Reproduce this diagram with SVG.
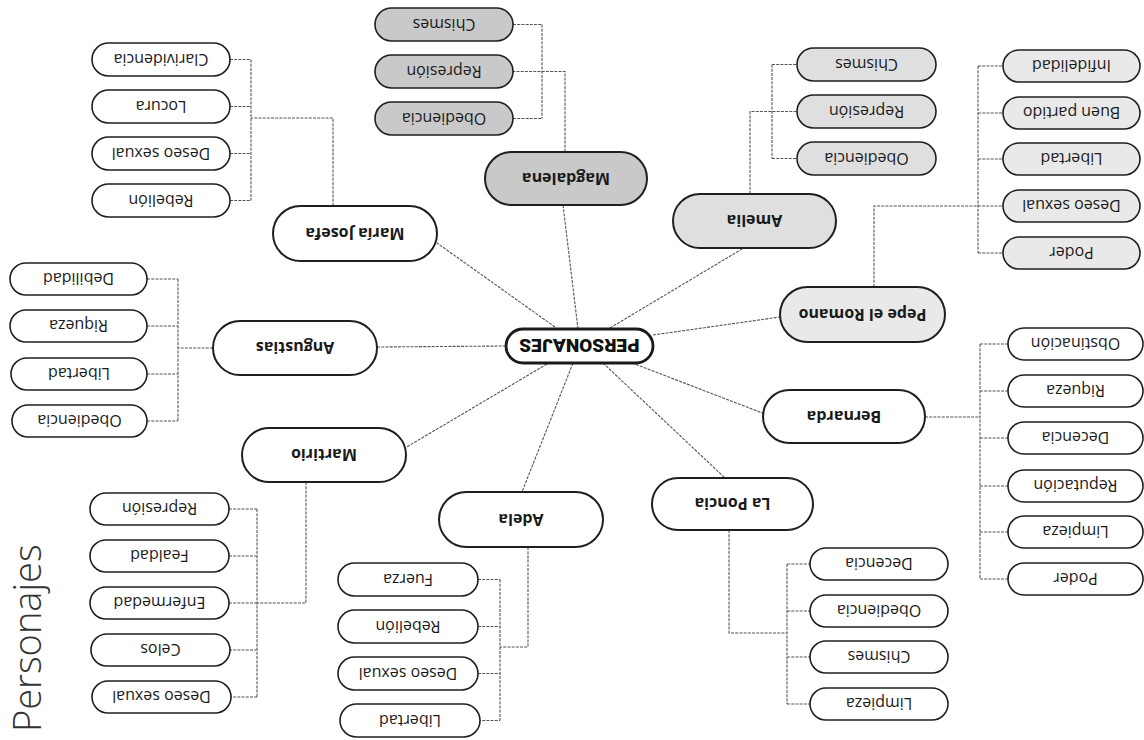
<svg xmlns="http://www.w3.org/2000/svg" width="1144" height="740" viewBox="0 0 1144 740">
<style>
.bg{fill:#fff}
.leaf rect{stroke:#1f1f1f;stroke-width:1.6;fill:#fff}
.main rect{stroke:#1f1f1f;stroke-width:2;fill:#fff}
.g1 rect{fill:#c9c9c9}
.g2 rect{fill:#dfdfdf}
.g3 rect{fill:#e9e9e9}
.leaf text{font-family:"Open Sans","Liberation Sans",sans-serif;font-size:16px;fill:#1a1a1a;text-anchor:middle}
.main text{font-family:"Open Sans","Liberation Sans",sans-serif;font-size:16px;font-weight:700;fill:#1a1a1a;text-anchor:middle}
#center rect{stroke:#1a1a1a;stroke-width:2.8;fill:#fff}
#center text{font-family:Roboto,"Liberation Sans",sans-serif;font-size:19px;font-weight:900;fill:#111;text-anchor:middle}
.conn path{fill:none;stroke:#555;stroke-width:1.1;stroke-dasharray:3 1.2}
.title{font-family:"Open Sans","Liberation Sans",sans-serif;font-weight:300;font-size:38px;fill:#333}
</style>
<rect class="bg" x="0" y="0" width="1144" height="740"/>

<g id="connectors" class="conn">
  <!-- spokes -->
  <path d="M555,327 L437,243"/>
  <path d="M578,329 L563,205"/>
  <path d="M610,328 L742,249"/>
  <path d="M653,335 L780,317"/>
  <path d="M506,346 L377,347"/>
  <path d="M547,364 L405,448"/>
  <path d="M573,363 L522,492"/>
  <path d="M603,363 L725,478"/>
  <path d="M632,363 L765,414"/>
  <!-- María Josefa -->
  <path d="M333,206 V118 H251"/>
  <path d="M251,59.5 V200.5 M230,59.5 H251 M230,106.5 H251 M230,153.5 H251 M230,200.5 H251"/>
  <!-- Magdalena -->
  <path d="M565,152 V71.5 H513"/>
  <path d="M542,24.5 V118.5 M513,24.5 H542 M513,118.5 H542"/>
  <!-- Amelia -->
  <path d="M750,194 V111.5 H797"/>
  <path d="M772,64.5 V158.5 M772,64.5 H797 M772,158.5 H797"/>
  <!-- Pepe el Romano -->
  <path d="M874,287 V206 H1003"/>
  <path d="M978,66 V253 M978,66 H1003 M978,113 H1003 M978,159 H1003 M978,253 H1003"/>
  <!-- Bernarda -->
  <path d="M925,417 H980"/>
  <path d="M980,344 V579 M980,344 H1008 M980,391 H1008 M980,438 H1008 M980,486 H1008 M980,532 H1008 M980,579 H1008"/>
  <!-- La Poncia -->
  <path d="M729,530 V633 H787"/>
  <path d="M787,564 V704 M787,564 H810 M787,611 H810 M787,657 H810 M787,704 H810"/>
  <!-- Adela -->
  <path d="M528,547 V647 H500"/>
  <path d="M500,579.5 V720.5 M478,579.5 H500 M478,626.5 H500 M478,673.5 H500 M478,720.5 H500"/>
  <!-- Martirio -->
  <path d="M306,482 V603 H257"/>
  <path d="M257,509 V697 M229,509 H257 M229,556 H257 M229,603 H257 M229,650 H257 M229,697 H257"/>
  <!-- Angustias -->
  <path d="M213,348 H178"/>
  <path d="M178,279 V421 M147,279 H178 M147,326 H178 M147,374 H178 M147,421 H178"/>
</g>

<text class="title" transform="translate(41,732) rotate(-90)">Personajes</text>

<g id="center"><rect x="506" y="329" width="147" height="34" rx="17"/><text x="579.5" y="346" dy="0.35em" transform="rotate(180 579.5 346)">PERSONAJES</text></g>

<g id="maria-josefa" class="main"><rect x="273" y="206" width="164" height="55" rx="27.5"/><text x="355" y="233.5" dy="0.35em" transform="rotate(180 355 233.5)">María Josefa</text></g>
<g id="magdalena" class="main g1"><rect x="485" y="152" width="162" height="53" rx="26.5"/><text x="566" y="178.5" dy="0.35em" transform="rotate(180 566 178.5)">Magdalena</text></g>
<g id="amelia" class="main g2"><rect x="673" y="194" width="163" height="54" rx="27"/><text x="754.5" y="221" dy="0.35em" transform="rotate(180 754.5 221)">Amelia</text></g>
<g id="pepe" class="main g3"><rect x="780" y="287" width="165" height="55" rx="27.5"/><text x="862.5" y="314.5" dy="0.35em" transform="rotate(180 862.5 314.5)">Pepe el Romano</text></g>
<g id="bernarda" class="main"><rect x="763" y="390" width="162" height="53" rx="26.5"/><text x="844" y="416.5" dy="0.35em" transform="rotate(180 844 416.5)">Bernarda</text></g>
<g id="la-poncia" class="main"><rect x="652" y="478" width="161" height="52" rx="26"/><text x="732.5" y="504" dy="0.35em" transform="rotate(180 732.5 504)">La Poncia</text></g>
<g id="adela" class="main"><rect x="439" y="492" width="164" height="55" rx="27.5"/><text x="521" y="519.5" dy="0.35em" transform="rotate(180 521 519.5)">Adela</text></g>
<g id="martirio" class="main"><rect x="242" y="428" width="164" height="54" rx="27"/><text x="324" y="455" dy="0.35em" transform="rotate(180 324 455)">Martirio</text></g>
<g id="angustias" class="main"><rect x="213" y="321" width="164" height="54" rx="27"/><text x="295" y="348" dy="0.35em" transform="rotate(180 295 348)">Angustias</text></g>

<!-- María Josefa leaves -->
<g id="mj-clarividencia" class="leaf"><rect x="92" y="43" width="138" height="33" rx="16.5"/><text x="161" y="59.5" dy="0.35em" transform="rotate(180 161 59.5)">Clarividencia</text></g>
<g id="mj-locura" class="leaf"><rect x="92" y="90" width="138" height="33" rx="16.5"/><text x="161" y="106.5" dy="0.35em" transform="rotate(180 161 106.5)">Locura</text></g>
<g id="mj-deseo" class="leaf"><rect x="92" y="137" width="138" height="33" rx="16.5"/><text x="161" y="153.5" dy="0.35em" transform="rotate(180 161 153.5)">Deseo sexual</text></g>
<g id="mj-rebelion" class="leaf"><rect x="92" y="184" width="138" height="33" rx="16.5"/><text x="161" y="200.5" dy="0.35em" transform="rotate(180 161 200.5)">Rebelión</text></g>

<!-- Magdalena leaves -->
<g id="mg-chismes" class="leaf g1"><rect x="375" y="8" width="138" height="33" rx="16.5"/><text x="444" y="24.5" dy="0.35em" transform="rotate(180 444 24.5)">Chismes</text></g>
<g id="mg-represion" class="leaf g1"><rect x="375" y="55" width="138" height="33" rx="16.5"/><text x="444" y="71.5" dy="0.35em" transform="rotate(180 444 71.5)">Represión</text></g>
<g id="mg-obediencia" class="leaf g1"><rect x="375" y="102" width="138" height="33" rx="16.5"/><text x="444" y="118.5" dy="0.35em" transform="rotate(180 444 118.5)">Obediencia</text></g>

<!-- Amelia leaves -->
<g id="am-chismes" class="leaf g2"><rect x="797" y="48" width="139" height="33" rx="16.5"/><text x="866.5" y="64.5" dy="0.35em" transform="rotate(180 866.5 64.5)">Chismes</text></g>
<g id="am-represion" class="leaf g2"><rect x="797" y="95" width="139" height="33" rx="16.5"/><text x="866.5" y="111.5" dy="0.35em" transform="rotate(180 866.5 111.5)">Represión</text></g>
<g id="am-obediencia" class="leaf g2"><rect x="797" y="142" width="139" height="33" rx="16.5"/><text x="866.5" y="158.5" dy="0.35em" transform="rotate(180 866.5 158.5)">Obediencia</text></g>

<!-- Pepe leaves -->
<g id="pp-infidelidad" class="leaf g3"><rect x="1003" y="50" width="137" height="32" rx="16"/><text x="1071.5" y="66" dy="0.35em" transform="rotate(180 1071.5 66)">Infidelidad</text></g>
<g id="pp-buen" class="leaf g3"><rect x="1003" y="97" width="137" height="32" rx="16"/><text x="1071.5" y="113" dy="0.35em" transform="rotate(180 1071.5 113)">Buen partido</text></g>
<g id="pp-libertad" class="leaf g3"><rect x="1003" y="143" width="137" height="32" rx="16"/><text x="1071.5" y="159" dy="0.35em" transform="rotate(180 1071.5 159)">Libertad</text></g>
<g id="pp-deseo" class="leaf g3"><rect x="1003" y="190" width="137" height="32" rx="16"/><text x="1071.5" y="206" dy="0.35em" transform="rotate(180 1071.5 206)">Deseo sexual</text></g>
<g id="pp-poder" class="leaf g3"><rect x="1003" y="237" width="137" height="32" rx="16"/><text x="1071.5" y="253" dy="0.35em" transform="rotate(180 1071.5 253)">Poder</text></g>

<!-- Bernarda leaves -->
<g id="be-obstinacion" class="leaf"><rect x="1008" y="328" width="135" height="32" rx="16"/><text x="1075.5" y="344" dy="0.35em" transform="rotate(180 1075.5 344)">Obstinación</text></g>
<g id="be-riqueza" class="leaf"><rect x="1008" y="375" width="135" height="32" rx="16"/><text x="1075.5" y="391" dy="0.35em" transform="rotate(180 1075.5 391)">Riqueza</text></g>
<g id="be-decencia" class="leaf"><rect x="1008" y="422" width="135" height="32" rx="16"/><text x="1075.5" y="438" dy="0.35em" transform="rotate(180 1075.5 438)">Decencia</text></g>
<g id="be-reputacion" class="leaf"><rect x="1008" y="470" width="135" height="32" rx="16"/><text x="1075.5" y="486" dy="0.35em" transform="rotate(180 1075.5 486)">Reputación</text></g>
<g id="be-limpieza" class="leaf"><rect x="1008" y="516" width="135" height="32" rx="16"/><text x="1075.5" y="532" dy="0.35em" transform="rotate(180 1075.5 532)">Limpieza</text></g>
<g id="be-poder" class="leaf"><rect x="1008" y="563" width="135" height="32" rx="16"/><text x="1075.5" y="579" dy="0.35em" transform="rotate(180 1075.5 579)">Poder</text></g>

<!-- La Poncia leaves -->
<g id="lp-decencia" class="leaf"><rect x="810" y="548" width="138" height="32" rx="16"/><text x="879" y="564" dy="0.35em" transform="rotate(180 879 564)">Decencia</text></g>
<g id="lp-obediencia" class="leaf"><rect x="810" y="595" width="138" height="32" rx="16"/><text x="879" y="611" dy="0.35em" transform="rotate(180 879 611)">Obediencia</text></g>
<g id="lp-chismes" class="leaf"><rect x="810" y="641" width="138" height="32" rx="16"/><text x="879" y="657" dy="0.35em" transform="rotate(180 879 657)">Chismes</text></g>
<g id="lp-limpieza" class="leaf"><rect x="810" y="688" width="138" height="32" rx="16"/><text x="879" y="704" dy="0.35em" transform="rotate(180 879 704)">Limpieza</text></g>

<!-- Adela leaves -->
<g id="ad-fuerza" class="leaf"><rect x="338" y="563" width="140" height="33" rx="16.5"/><text x="408" y="579.5" dy="0.35em" transform="rotate(180 408 579.5)">Fuerza</text></g>
<g id="ad-rebelion" class="leaf"><rect x="338" y="610" width="140" height="33" rx="16.5"/><text x="408" y="626.5" dy="0.35em" transform="rotate(180 408 626.5)">Rebelión</text></g>
<g id="ad-deseo" class="leaf"><rect x="338" y="657" width="140" height="33" rx="16.5"/><text x="408" y="673.5" dy="0.35em" transform="rotate(180 408 673.5)">Deseo sexual</text></g>
<g id="ad-libertad" class="leaf"><rect x="340" y="704" width="140" height="33" rx="16.5"/><text x="410" y="720.5" dy="0.35em" transform="rotate(180 410 720.5)">Libertad</text></g>

<!-- Martirio leaves -->
<g id="ma-represion" class="leaf"><rect x="90" y="493" width="139" height="32" rx="16"/><text x="159.5" y="509" dy="0.35em" transform="rotate(180 159.5 509)">Represión</text></g>
<g id="ma-fealdad" class="leaf"><rect x="90" y="540" width="139" height="32" rx="16"/><text x="159.5" y="556" dy="0.35em" transform="rotate(180 159.5 556)">Fealdad</text></g>
<g id="ma-enfermedad" class="leaf"><rect x="90" y="587" width="139" height="32" rx="16"/><text x="159.5" y="603" dy="0.35em" transform="rotate(180 159.5 603)">Enfermedad</text></g>
<g id="ma-celos" class="leaf"><rect x="91" y="634" width="139" height="32" rx="16"/><text x="160.5" y="650" dy="0.35em" transform="rotate(180 160.5 650)">Celos</text></g>
<g id="ma-deseo" class="leaf"><rect x="92" y="681" width="139" height="32" rx="16"/><text x="161.5" y="697" dy="0.35em" transform="rotate(180 161.5 697)">Deseo sexual</text></g>

<!-- Angustias leaves -->
<g id="an-debilidad" class="leaf"><rect x="10" y="263" width="137" height="32" rx="16"/><text x="78.5" y="279" dy="0.35em" transform="rotate(180 78.5 279)">Debilidad</text></g>
<g id="an-riqueza" class="leaf"><rect x="10" y="310" width="137" height="32" rx="16"/><text x="78.5" y="326" dy="0.35em" transform="rotate(180 78.5 326)">Riqueza</text></g>
<g id="an-libertad" class="leaf"><rect x="11" y="358" width="136" height="32" rx="16"/><text x="79" y="374" dy="0.35em" transform="rotate(180 79 374)">Libertad</text></g>
<g id="an-obediencia" class="leaf"><rect x="12" y="405" width="135" height="32" rx="16"/><text x="79.5" y="421" dy="0.35em" transform="rotate(180 79.5 421)">Obediencia</text></g>
</svg>
